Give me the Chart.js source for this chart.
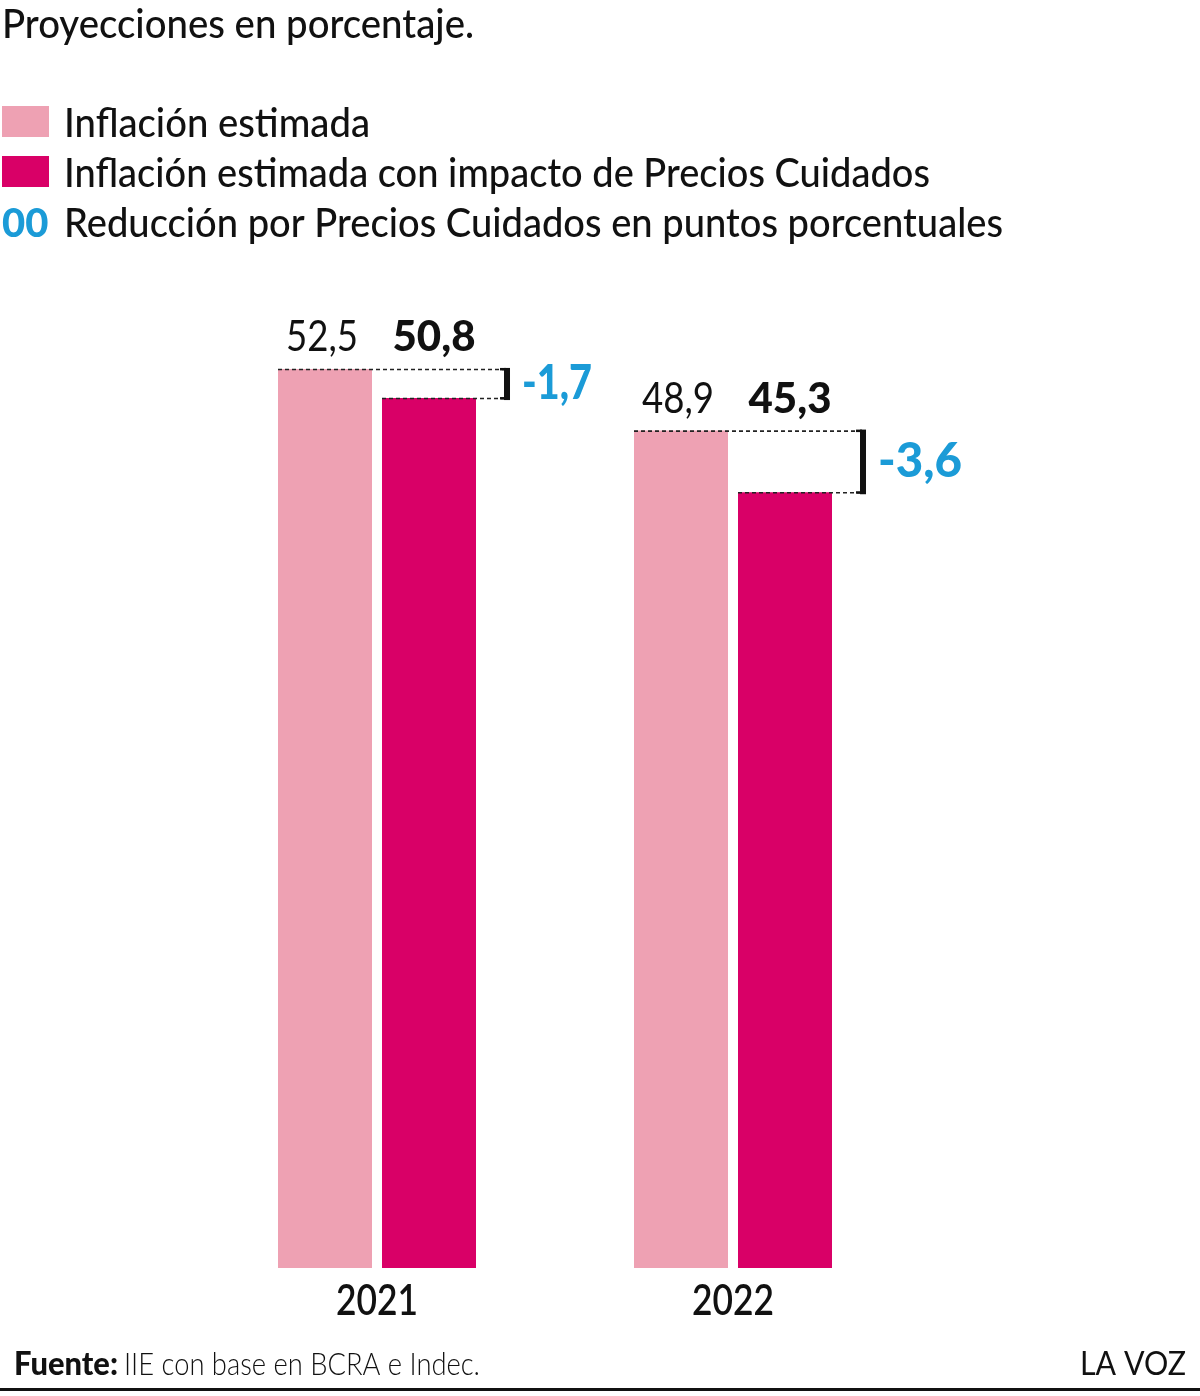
<!DOCTYPE html>
<html>
<head>
<meta charset="utf-8">
<script src="https://cdn.jsdelivr.net/npm/chart.js@4.4.1/dist/chart.umd.min.js"></script>
<style>
  html, body { margin: 0; background: #fff; }
  canvas { display: block; }
</style>
</head>
<body>
<canvas id="chart" width="1200" height="1396"></canvas>
<script>
// datos
const years = ['2021', '2022'];
const estimada = [52.5, 48.9];
const conImpacto = [50.8, 45.3];
const reduccion = [-1.7, -3.6];
const seriesNames = ['Inflación estimada', 'Inflación estimada con impacto de Precios Cuidados'];
const reduccionName = 'Reducción por Precios Cuidados en puntos porcentuales';

const PINK = '#eea1b3';
const MAGENTA = '#d90067';
const BLUE = '#1b9bd7';
const FONT = 'Lato, "Noto Sans", sans-serif';

const fmt = v => v.toFixed(1).replace('.', ',');

function txt(ctx, s, x, y, font, color, align, maxW) {
    ctx.font = font;
    ctx.fillStyle = color;
    ctx.textAlign = align || 'left';
    ctx.textBaseline = 'alphabetic';
    if (maxW) ctx.fillText(s, x, y, maxW); else ctx.fillText(s, x, y);
}

const overlay = {
    id: 'overlay',
    afterDraw(chart) {
        const ctx = chart.ctx;
        ctx.save();

        // titulo
        txt(ctx, 'Proyecciones en porcentaje.', 2, 38, '500 40px ' + FONT, '#111', 'left', 472);

        // leyenda
        ctx.fillStyle = PINK;
        ctx.fillRect(2, 106, 47, 31);
        ctx.fillStyle = MAGENTA;
        ctx.fillRect(2, 156, 47, 31);
        txt(ctx, seriesNames[0], 64, 137, '500 40px ' + FONT, '#111', 'left', 306);
        txt(ctx, seriesNames[1], 64, 187, '500 40px ' + FONT, '#111', 'left', 866);
        txt(ctx, '00', 2, 237, '900 40px ' + FONT, BLUE, 'left', 48);
        txt(ctx, reduccionName, 64, 237, '500 40px ' + FONT, '#111', 'left', 939);

        const m0 = chart.getDatasetMeta(0);
        const m1 = chart.getDatasetMeta(1);
        years.forEach((yr, i) => {
            const a = m0.data[i], b = m1.data[i];
            const aL = a.x - a.width / 2;
            const bL = b.x - b.width / 2;
            const bR = b.x + b.width / 2;
            const bx = bR + 31;

            // valores
            txt(ctx, fmt(estimada[i]), a.x - 3, a.y - 18, '400 42px ' + FONT, '#111', 'center', 72);
            txt(ctx, fmt(conImpacto[i]), b.x + 5, a.y - 18, '900 42px ' + FONT, '#111', 'center', 84);

            // lineas punteadas
            ctx.strokeStyle = '#222';
            ctx.lineWidth = 1.6;
            ctx.setLineDash([4, 3]);
            ctx.beginPath();
            ctx.moveTo(aL, a.y + 0.5); ctx.lineTo(bx - 2, a.y + 0.5);
            ctx.moveTo(bL, b.y + 0.5); ctx.lineTo(bx - 2, b.y + 0.5);
            ctx.stroke();
            ctx.setLineDash([]);

            // corchete
            ctx.fillStyle = '#111';
            ctx.fillRect(bx - 3, a.y - 1, 6, b.y - a.y + 3);
            ctx.fillRect(bx - 7, a.y - 1, 6, 2.5);
            ctx.fillRect(bx - 7, b.y - 1, 6, 2.5);

            // reduccion
            const mid = (a.y + b.y) / 2;
            txt(ctx, fmt(reduccion[i]), bx + 15, mid + 16, '900 48px ' + FONT, BLUE, 'left', i === 0 ? 70 : 84);

            // anio
            txt(ctx, yr, (a.x + b.x) / 2, 1315, '600 42px ' + FONT, '#111', 'center', 82);
        });

        // pie
        txt(ctx, 'Fuente:', 14, 1375, '900 32px ' + FONT, '#111', 'left', 104);
        txt(ctx, 'IIE con base en BCRA e Indec.', 124, 1375, '300 32px ' + FONT, '#111', 'left', 356);
        txt(ctx, 'LA VOZ', 1186, 1375, '400 32px ' + FONT, '#111', 'right', 106);
        ctx.fillStyle = '#111';
        ctx.fillRect(0, 1388, 1200, 3);

        ctx.restore();
    }
};

new Chart(document.getElementById('chart').getContext('2d'), {
    type: 'bar',
    data: {
        labels: years,
        datasets: [
            { label: seriesNames[0], data: estimada, backgroundColor: PINK },
            { label: seriesNames[1], data: conImpacto, backgroundColor: MAGENTA }
        ]
    },
    options: {
        responsive: false,
        animation: false,
        devicePixelRatio: 1,
        layout: { padding: { top: 309, bottom: 128, left: 199, right: 289 } },
        datasets: { bar: { categoryPercentage: 0.5843, barPercentage: 0.9038 } },
        scales: {
            x: { display: false },
            y: { display: false, min: 0, max: 56 }
        },
        plugins: { legend: { display: false }, tooltip: { enabled: false } }
    },
    plugins: [overlay]
});
</script>
</body>
</html>
